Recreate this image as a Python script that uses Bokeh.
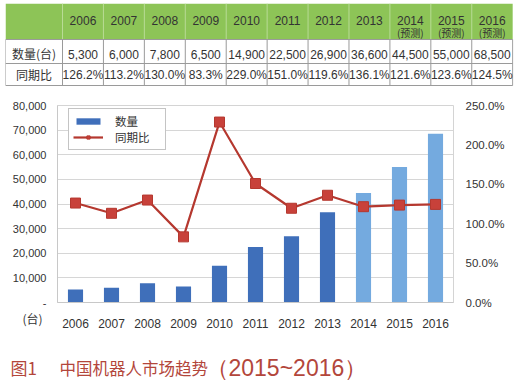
from bokeh.plotting import figure
from bokeh.models import (ColumnDataSource, Range1d, LinearAxis, SingleIntervalTicker,
                          NumeralTickFormatter, Legend, LegendItem, Label)
from bokeh.layouts import column
from bokeh.core.properties import value
from bokeh.embed import file_html
from bokeh.resources import INLINE

# ---------------- data ----------------
years = ["2006", "2007", "2008", "2009", "2010", "2011", "2012", "2013", "2014", "2015", "2016"]
forecast = [False, False, False, False, False, False, False, False, True, True, True]
quantity = [5300, 6000, 7800, 6500, 14900, 22500, 26900, 36600, 44500, 55000, 68500]
yoy_pct = [126.2, 113.2, 130.0, 83.3, 229.0, 151.0, 119.6, 136.1, 121.6, 123.6, 124.5]
row_labels = ["数量(台)", "同期比"]
forecast_note = "(预测)"
legend_labels = ["数量", "同期比"]
unit_label = "(台)"
caption_num = "图1"
caption_title = "中国机器人市场趋势"
caption_years = "（2015~2016）"

# ---------------- styles ----------------
CJK = value("Noto Sans CJK SC")
LAT = value("Liberation Sans")
TXT = "#333333"
GREEN = "#8dc457"
GRID_T = "#9a9a9a"
DARK_BAR = "#3f6fba"
LIGHT_BAR = "#74aadf"
RED_LINE = "#b5382f"
RED_MARK = "#c8413a"
CAP_COLOR = "#b3463b"

n = len(years)
LABEL_W = 1.393
H0, H1, H2 = 36, 60, 82

# ---------------- table ----------------
tbl = figure(frame_width=508, frame_height=83, x_range=Range1d(-LABEL_W, n + 0.02),
             y_range=Range1d(83, 0), x_axis_type=None, y_axis_type=None,
             toolbar_location=None, output_backend="svg",
             min_border_left=5, min_border_right=9, min_border_top=3, min_border_bottom=0)
tbl.grid.visible = False
tbl.outline_line_color = None

tbl.quad(left=[-LABEL_W], right=[n], top=[0], bottom=[H0], fill_color=GREEN, line_color=None)
cols = list(range(n + 1))
tbl.segment(x0=cols[:-1], x1=cols[:-1], y0=[0] * n, y1=[H0] * n,
            line_color="#b9db96", line_width=1)
tbl.segment(x0=cols, x1=cols, y0=[H0] * (n + 1), y1=[H2] * (n + 1),
            line_color=GRID_T, line_width=1)
tbl.segment(x0=[-LABEL_W], x1=[-LABEL_W], y0=[H0], y1=[H2], line_color=GRID_T, line_width=1)
tbl.segment(x0=[-LABEL_W] * 3, x1=[n] * 3, y0=[H0, H1, H2], y1=[H0, H1, H2],
            line_color=GRID_T, line_width=1)

centers = [i + 0.5 for i in range(n)]
tbl.text(x=centers, y=[17] * n, text=years, text_align="center", text_baseline="middle",
         text_font=LAT, text_font_size="12px", text_color=TXT)
fc_x = [c for c, f in zip(centers, forecast) if f]
tbl.text(x=fc_x, y=[29] * len(fc_x), text=[forecast_note] * len(fc_x), text_align="center",
         text_baseline="middle", text_font=CJK, text_font_size="10px", text_color=TXT)
tbl.text(x=centers, y=[51] * n, text=[f"{q:,}" for q in quantity], text_align="center",
         text_baseline="middle", text_font=LAT, text_font_size="12px", text_color=TXT)
tbl.text(x=centers, y=[71] * n, text=[f"{v:.1f}%" for v in yoy_pct], text_align="center",
         text_baseline="middle", text_font=LAT, text_font_size="12px", text_color=TXT)
tbl.text(x=[-LABEL_W / 2] * 2, y=[50, 71], text=row_labels, text_align="center",
         text_baseline="middle", text_font=CJK, text_font_size="12px", text_color=TXT)

# ---------------- chart ----------------
src = ColumnDataSource(dict(
    year=years,
    quantity=quantity,
    color=[LIGHT_BAR if f else DARK_BAR for f in forecast],
    yoy=[v / 100 for v in yoy_pct],
))

p = figure(x_range=years, y_range=Range1d(0, 80000), frame_width=396, frame_height=197,
           min_border_left=57, min_border_right=69, min_border_top=19, min_border_bottom=38,
           toolbar_location=None, output_backend="svg")
p.extra_y_ranges = {"pct": Range1d(0, 2.5)}
p.outline_line_color = "#d4d4d4"
p.xgrid.visible = False
p.ygrid.grid_line_color = "#d6d6d6"
p.x_range.range_padding = 0

bars = p.vbar(x="year", top="quantity", width=0.42, fill_color="color", line_color=None, source=src)
line = p.line(x="year", y="yoy", y_range_name="pct", line_color=RED_LINE, line_width=2.2, source=src)
marks = p.scatter(x="year", y="yoy", y_range_name="pct", marker="square", size=10,
                  fill_color=RED_MARK, line_color=RED_LINE, source=src)

yl = p.yaxis[0]
yl.ticker = SingleIntervalTicker(interval=10000, num_minor_ticks=0)
yl.formatter = NumeralTickFormatter(format="0,0")
yl.major_label_overrides = {0: "-"}
yl.major_tick_line_color = None
yl.minor_tick_line_color = None
yl.axis_line_color = "#c8c8c8"
yl.major_label_standoff = 5

yr = LinearAxis(y_range_name="pct", ticker=SingleIntervalTicker(interval=0.5, num_minor_ticks=0),
                formatter=NumeralTickFormatter(format="0.0%"))
yr.major_tick_line_color = None
yr.minor_tick_line_color = None
yr.axis_line_color = None
yr.major_label_standoff = 6
p.add_layout(yr, "right")

xa = p.xaxis[0]
xa.major_tick_line_color = None
xa.minor_tick_line_color = None
xa.axis_line_color = "#c8c8c8"
xa.major_label_standoff = 10

for ax in (yl, yr, xa):
    ax.major_label_text_font = "Liberation Sans"
    ax.major_label_text_color = TXT
yl.major_label_text_font_size = "11px"
yr.major_label_text_font_size = "11.5px"
xa.major_label_text_font_size = "12px"

legend = Legend(items=[LegendItem(label=legend_labels[0], renderers=[bars]),
                       LegendItem(label=legend_labels[1], renderers=[line, marks])],
                location=(11, 152))
legend.padding = 4
legend.margin = 0
legend.spacing = 0
legend.glyph_width = 30
legend.glyph_height = 8
legend.label_standoff = 12
legend.label_width = 46
legend.label_text_font = "Noto Sans CJK SC"
legend.label_text_font_size = "11.5px"
legend.label_text_color = TXT
legend.border_line_color = "#8a8a8a"
legend.background_fill_alpha = 1
p.add_layout(legend)

unit = Label(x=-25, y=29, x_units="screen", y_units="screen", text=unit_label,
             text_align="center", text_baseline="middle", text_font="Noto Sans CJK SC",
             text_font_size="12px", text_color=TXT)
p.add_layout(unit, "below")

# ---------------- caption ----------------
cap = figure(width=522, height=40, x_range=Range1d(0, 522), y_range=Range1d(0, 40),
             x_axis_type=None, y_axis_type=None, toolbar_location=None,
             output_backend="svg", min_border=0)
cap.grid.visible = False
cap.outline_line_color = None
cap.add_layout(Label(x=10, y=20, text=caption_num, text_baseline="middle",
                     text_font="Noto Sans CJK SC", text_font_size="17px", text_color=CAP_COLOR))
cap.add_layout(Label(x=59, y=20, text=caption_title, text_baseline="middle",
                     text_font="Noto Sans CJK SC", text_font_size="16.5px", text_color=CAP_COLOR))
cap.add_layout(Label(x=205, y=20, text=caption_years, text_baseline="middle",
                     text_font="Liberation Sans", text_font_size="23px", text_color=CAP_COLOR))

layout = column(column(tbl), column(p), column(cap), spacing=0)
open("out.html", "w").write(file_html(layout, INLINE))
